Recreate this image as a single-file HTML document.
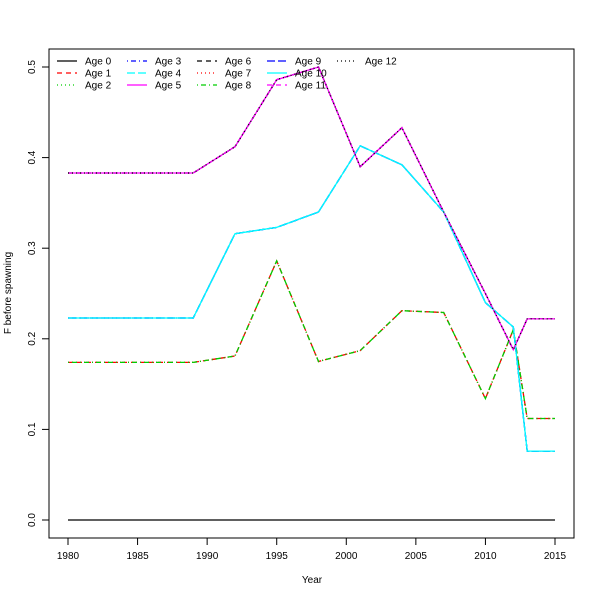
<!DOCTYPE html>
<html><head><meta charset="utf-8"><style>
body{margin:0;background:#fff;}
svg{display:block;font-family:"Liberation Sans","DejaVu Sans",sans-serif;}
</style></head><body>
<svg id="chart" width="600" height="600">
<rect x="49" y="49" width="525" height="489" fill="none" stroke="#000" stroke-width="1"/>
<g id="axes"></g>
<g id="series"></g>
<g id="legend"></g>
<text x="312" y="583" font-size="10" text-anchor="middle">Year</text>
<text x="11" y="293" font-size="10" text-anchor="middle" transform="rotate(-90 11 293)">F before spawning</text>
</svg>
<script>
const years = [1980,1981,1982,1983,1984,1985,1986,1987,1988,1989,1992,1995,1998,2001,2004,2007,2010,2012,2013,2014,2015];
const groupZero = [0,0,0,0,0,0,0,0,0,0,0,0,0,0,0,0,0,0,0,0,0];
const groupLow = [0.174,0.174,0.174,0.174,0.174,0.174,0.174,0.174,0.174,0.174,0.181,0.286,0.175,0.187,0.231,0.229,0.134,0.21,0.112,0.112,0.112];
const groupMid = [0.223,0.223,0.223,0.223,0.223,0.223,0.223,0.223,0.223,0.223,0.316,0.323,0.340,0.413,0.392,0.340,0.240,0.213,0.076,0.076,0.076];
const groupHigh = [0.383,0.383,0.383,0.383,0.383,0.383,0.383,0.383,0.383,0.383,0.412,0.486,0.500,0.390,0.433,0.340,0.250,0.188,0.222,0.222,0.222];
const ageGroups = [0,1,1,2,2,3,3,1,1,2,2,3,3];
const xTicks = [1980,1985,1990,1995,2000,2005,2010,2015];
const yTicks = [0,0.1,0.2,0.3,0.4,0.5];
const colors = ["#000","#ff0000","#00cd00","#0000ff","#00ffff","#ff00ff"];
const dashes = ["", "5 4", "1 3", "1 3 5 3", "8 3"];
const groups = [groupZero, groupLow, groupMid, groupHigh];
const NS = "http://www.w3.org/2000/svg";
const xs = y => 68 + (y - 1980) * (487 / 35);
const ys = v => 520 - v * 906;
const axes = document.getElementById('axes');
function mk(tag, attrs, parent){const e=document.createElementNS(NS,tag);for(const k in attrs)e.setAttribute(k,attrs[k]);parent.appendChild(e);return e;}
mk('line',{x1:xs(1980),x2:xs(2015),y1:538,y2:538,stroke:'#000'},axes);
xTicks.forEach(t=>{
  const l=mk('line',{x1:xs(t),x2:xs(t),y1:538,y2:545,stroke:'#000'},axes);
  
  
  const tx=mk('text',{x:xs(t),y:559,'font-size':10,'text-anchor':'middle'},axes);
  tx.textContent=t;
  
  
});
mk('line',{x1:49,x2:49,y1:ys(0),y2:ys(0.5),stroke:'#000'},axes);
yTicks.forEach(t=>{
  const l=mk('line',{x1:42,x2:49,y1:ys(t),y2:ys(t),stroke:'#000'},axes);
  
  
  const tx=mk('text',{x:35,y:ys(t),'font-size':10,'text-anchor':'middle',transform:`rotate(-90 35 ${ys(t)})`},axes);
  tx.textContent=t.toFixed(1);
  
  
});
const series=document.getElementById('series');
ageGroups.forEach((g,i)=>{
  const vals=groups[g];
  const pts=years.map((y,j)=>xs(y).toFixed(1)+','+ys(vals[j]).toFixed(1)).join(' ');
  const p=mk('polyline',{points:pts,fill:'none',stroke:colors[i%6],'stroke-width':1.3,'stroke-dasharray':dashes[i%5]},series);
  
  
});
const legend=document.getElementById('legend');
for(let i=0;i<13;i++){
  const col=Math.floor(i/3), row=i%3;
  const x=57+col*70, y=61+row*12;
  const l=mk('line',{x1:x,x2:x+20,y1:y,y2:y,stroke:colors[i%6],'stroke-width':1.3,'stroke-dasharray':dashes[i%5]},legend);
  
  
  const t=mk('text',{x:x+28,y:y+3.5,'font-size':10},legend);
  t.textContent='Age '+i;
  
  
}
</script>
</body></html>
